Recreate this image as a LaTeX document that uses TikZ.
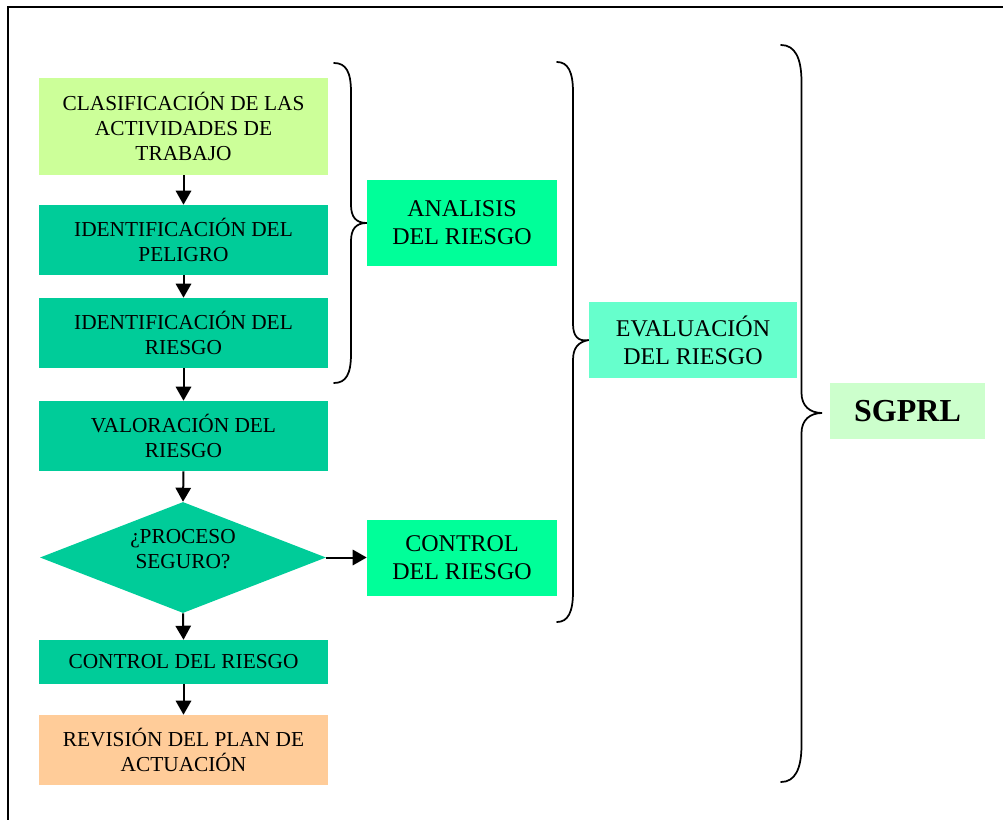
\documentclass[tikz,border=0pt]{standalone}
\usepackage{fontspec}
\setmainfont{Liberation Serif}
\usetikzlibrary{shapes.geometric,arrows.meta}
\definecolor{lgreen}{HTML}{CCFF99}
\definecolor{teal1}{HTML}{00CC99}
\definecolor{sgreen}{HTML}{00FF99}
\definecolor{aqua}{HTML}{66FFCC}
\definecolor{pale}{HTML}{CCFFCC}
\definecolor{peach}{HTML}{FFCC99}
\tikzset{
  stepbox/.style={rectangle, inner sep=0pt, minimum width=289*0.75pt, align=center,
    font=\fontsize{16}{19}\selectfont},
  sidebox/.style={rectangle, inner sep=0pt, align=center,
    font=\fontsize{18}{21}\selectfont},
  flow/.style={line width=1.5pt, -{Triangle[width=11.5pt,length=10.5pt]}},
  brace/.style={line width=1.3pt, line cap=round}
}
\begin{document}
\begin{tikzpicture}[x=0.75pt,y=-0.75pt]
\useasboundingbox (0,0) rectangle (1003,820);
% outer frame
\begin{scope}
\clip (0,0) rectangle (1003,820);
\draw[line width=1.4pt] (8,7) rectangle (1020,840);
\end{scope}

% main flow column
\node[stepbox, fill=lgreen, minimum height=97*0.75pt] (clas) at (183.5,126.5)
  {CLASIFICACIÓN DE LAS\\ACTIVIDADES DE\\TRABAJO};
\node[stepbox, fill=teal1, minimum height=70*0.75pt] (peli) at (183.5,240)
  {IDENTIFICACIÓN DEL\\PELIGRO};
\node[stepbox, fill=teal1, minimum height=70*0.75pt] (ries) at (183.5,333)
  {IDENTIFICACIÓN DEL\\RIESGO};
\node[stepbox, fill=teal1, minimum height=70*0.75pt] (valo) at (183.5,436)
  {VALORACIÓN DEL\\RIESGO};
\node[diamond, fill=teal1, inner sep=0pt, minimum width=286*0.75pt,
  minimum height=111*0.75pt] (proc) at (183,557.5) {};
\node[align=center, font=\fontsize{16}{19}\selectfont] (proctxt) at (183,549)
  {¿PROCESO\\SEGURO?};
\node[stepbox, fill=teal1, minimum height=44*0.75pt] (ctrl) at (183.5,662)
  {CONTROL DEL RIESGO};
\node[stepbox, fill=peach, minimum height=70*0.75pt] (revi) at (183.5,750)
  {REVISIÓN DEL PLAN DE\\ACTUACIÓN};

% side boxes
\node[sidebox, fill=sgreen, minimum width=190*0.75pt, minimum height=86*0.75pt] (anal)
  at (462,223) {ANALISIS\\DEL RIESGO};
\node[sidebox, fill=sgreen, minimum width=190*0.75pt, minimum height=76*0.75pt] (ctrr)
  at (462,557.5) {CONTROL\\DEL RIESGO};
\node[sidebox, fill=aqua, minimum width=208*0.75pt, minimum height=76*0.75pt] (eval)
  at (693,340) {EVALUACIÓN\\DEL RIESGO};
\node[rectangle, inner sep=0pt, fill=pale, minimum width=155*0.75pt, minimum height=56*0.75pt,
  font=\fontsize{24}{28}\selectfont\bfseries] (sgp) at (907.5,411) {SGPRL};

% connectors
\draw[flow] (clas.south) -- (peli.north);
\draw[flow] (peli.south) -- (ries.north);
\draw[flow] (ries.south) -- (valo.north);
\draw[flow] (valo.south) -- (proc.north);
\draw[flow] (proc.south) -- (ctrl.north);
\draw[flow] (ctrl.south) -- (revi.north);
\draw[flow] (proc.east) -- (proc.east -| ctrr.west);

% braces
\draw[brace] (334,63) .. controls (346,63) and (351,72) .. (351,92) -- (351,205)
  .. controls (351,217) and (356,223) .. (anal.west)
  .. controls (356,223) and (351,229) .. (351,241) -- (351,354)
  .. controls (351,374) and (346,383) .. (334,383);
\draw[brace] (557,62) .. controls (568,62) and (573,72) .. (573,92) -- (573,324)
  .. controls (573,336) and (578,342) .. (eval.west)
  .. controls (578,342) and (573,348) .. (573,360) -- (573,592)
  .. controls (573,612) and (568,622) .. (557,622);
\coordinate (tip3) at (822,413);
\draw[brace] (781,45) .. controls (795,45) and (801.5,58) .. (801.5,82) -- (801.5,393)
  .. controls (801.5,406) and (810,413) .. (tip3)
  .. controls (810,413) and (801.5,420) .. (801.5,433) -- (801.5,745)
  .. controls (801.5,769) and (795,782) .. (781,782);
\end{tikzpicture}
\end{document}
